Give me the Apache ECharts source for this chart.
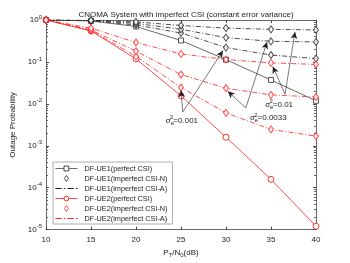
<!DOCTYPE html>
<html>
<head>
<meta charset="utf-8">
<script src="https://cdn.jsdelivr.net/npm/echarts@6/dist/echarts.min.js"></script>
<style>html,body{margin:0;padding:0;background:#fff}#c{width:350px;height:263px}</style>
</head>
<body>
<div id="c"></div>
<script>
var snr = [10, 15, 20, 25, 30, 35, 40];
var xTicks = [10, 15, 20, 25, 30, 35, 40];
var ue1Perfect = [1, 0.95, 0.70, 0.325, 0.113, 0.037, 0.0118];
var ue1Imp001 = [1, 0.96, 0.76, 0.49, 0.22, 0.146, 0.12];
var ue1Imp0033 = [1, 0.97, 0.83, 0.60, 0.38, 0.31, 0.30];
var ue1Imp01 = [1, 0.98, 0.90, 0.74, 0.64, 0.60, 0.58];
var ue2Perfect = [1, 0.55, 0.118, 0.0155, 0.0016, 0.000158, 0.000012];
var ue2Imp001 = [1, 0.56, 0.136, 0.0245, 0.0061, 0.00245, 0.0017];
var ue2Imp0033 = [1, 0.58, 0.18, 0.050, 0.0236, 0.0164, 0.0145];
var ue2Imp01 = [1, 0.64, 0.29, 0.155, 0.114, 0.095, 0.087];
var legendNames = ['DF-UE1(perfect CSI)', 'DF-UE1(imperfect CSI-N)', 'DF-UE1(imperfect CSI-A)',
                   'DF-UE2(perfect CSI)', 'DF-UE2(imperfect CSI-N)', 'DF-UE2(imperfect CSI-A)'];
var sigmaLabels = ['0.001', '0.0033', '0.01'];
// annotation anchors in data coordinates [snr, probability]
var ann001 = {label: [25.1, 0.0040], from: [25.2, 0.0064], to: [[25, 0.021], [29.67, 0.186]]};
var ann0033 = {label: [34.7, 0.0046], from: [32.2, 0.0080], to: [[30.2, 0.020], [34.56, 0.30]]};
var ann01 = {label: [35.9, 0.0095], from: [36.56, 0.017], to: [[35.2, 0.078], [37.67, 0.52]]};

function pairs(ys) { return snr.map(function (x, i) { return [x, ys[i]]; }); }

var RED = '#ff2020';
var BLK = '#222';
var dashDot = [5, 2, 1, 2];
var font = 'Liberation Sans, Arial, sans-serif';
var diamondPath = 'path://M0,-10 L7,0 L0,10 L-7,0 Z';
var dashDotPath = 'path://M0,0h6v0.9h-6z M8,0h1.5v0.9h-1.5z M11.5,0h6v0.9h-6z M19.5,0h1.5v0.9h-1.5z';

function aLine(name, ys, color) {
  return {name: name, type: 'line', data: pairs(ys), symbol: 'none', z: 2,
    lineStyle: {color: color, width: 0.8, type: dashDot}, itemStyle: {color: color}};
}
function nScatter(name, groups, color) {
  var d = [];
  groups.forEach(function (g) { d = d.concat(pairs(g)); });
  return {name: name, type: 'scatter', data: d, symbol: 'diamond', symbolSize: [5, 7], z: 4,
    itemStyle: {color: '#fff', borderColor: color, borderWidth: 1}};
}
function annData(a) {
  return a.to.map(function (t) { return [{coord: a.from}, {coord: t}]; });
}
function annLabel(a, s) {
  return {coord: a.label, symbol: 'circle', symbolSize: 0,
    label: {show: true, position: 'inside', formatter: '{n|σ}{sb|e}{sp|2}{n|=' + s + '}',
      rich: {n: {fontSize: 8, fontFamily: font, color: '#222'},
             sb: {fontSize: 6, fontFamily: font, color: '#222', padding: [0, 0, -5, 0]},
             sp: {fontSize: 6, fontFamily: font, color: '#222', padding: [0, 0, 6, -4]}}}};
}

var chart = echarts.init(document.getElementById('c'));
var yLabelFmt = function (v) {
  var e = Math.round(Math.log10(v));
  return '{b|10}{s|' + e + '}';
};
var legendData = legendNames.map(function (n, i) {
  if (i === 1 || i === 4) return {name: n, icon: diamondPath};
  if (i === 2) return {name: n, icon: dashDotPath, itemStyle: {color: BLK, borderWidth: 0}};
  if (i === 5) return {name: n, icon: dashDotPath, itemStyle: {color: RED, borderWidth: 0}};
  return {name: n};
});
chart.setOption({
  animation: false,
  backgroundColor: '#fff',
  title: {text: 'CNOMA System with imperfect CSI (constant error variance)', left: 181, textAlign: 'center', top: 6,
    textStyle: {fontSize: 8, fontWeight: 'normal', color: '#222', fontFamily: font}},
  grid: {left: 46, right: 34, top: 20, bottom: 31},
  legend: {data: legendData, orient: 'vertical', left: 53, top: 162, width: 118, itemWidth: 22, itemHeight: 6,
    itemGap: 3, padding: [3, 5, 2, 2], backgroundColor: '#fff', borderColor: '#999', borderWidth: 0.8,
    symbolKeepAspect: true, lineStyle: {width: 0.8}, itemStyle: {borderWidth: 1},
    textStyle: {fontSize: 7.3, lineHeight: 7, color: '#222', fontFamily: font, padding: [0, 0, 0, 2]}},
  xAxis: [{type: 'value', min: 10, max: 40, interval: 5, position: 'bottom',
    name: '{n|P}{sb|T}{n|/N}{sb|0}{n|(dB)}', nameLocation: 'middle', nameGap: 17,
    nameTextStyle: {rich: {n: {fontSize: 8, fontFamily: font, color: '#222'},
      sb: {fontSize: 6, fontFamily: font, color: '#222', padding: [0, 0, -5, 0]}}},
    axisLine: {lineStyle: {color: '#444', width: 0.8}},
    axisTick: {inside: true, length: 3, lineStyle: {color: '#444'}},
    axisLabel: {fontSize: 8, color: '#222', fontFamily: font, margin: 6},
    splitLine: {show: false}},
    {type: 'value', min: 10, max: 40, interval: 5, position: 'top',
    axisLine: {lineStyle: {color: '#444', width: 0.8}},
    axisTick: {inside: true, length: 3, lineStyle: {color: '#444'}},
    axisLabel: {show: false}, splitLine: {show: false}}],
  yAxis: [{type: 'log', logBase: 10, min: 1e-5, max: 1, position: 'left',
    name: 'Outage Probability', nameLocation: 'middle', nameGap: 22, nameRotate: 90,
    nameTextStyle: {fontSize: 8, color: '#222', fontFamily: font},
    axisLine: {show: true, lineStyle: {color: '#444', width: 0.8}},
    axisTick: {inside: true, length: 3, lineStyle: {color: '#444'}},
    minorTick: {show: true, splitNumber: 9, length: 2, lineStyle: {color: '#666'}},
    axisLabel: {formatter: yLabelFmt, margin: 4, rich: {b: {fontSize: 8, color: '#222', fontFamily: font},
      s: {fontSize: 6, color: '#222', fontFamily: font, padding: [0, 0, 6, 0]}}},
    splitLine: {show: false}},
    {type: 'log', logBase: 10, min: 1e-5, max: 1, position: 'right',
    axisLine: {show: true, lineStyle: {color: '#444', width: 0.8}},
    axisTick: {inside: true, length: 3, lineStyle: {color: '#444'}},
    minorTick: {show: true, splitNumber: 9, length: 2, lineStyle: {color: '#666'}},
    axisLabel: {show: false}, splitLine: {show: false}}],
  series: [
    {name: legendNames[0], type: 'line', data: pairs(ue1Perfect), symbol: 'rect', symbolSize: 5, z: 3,
      lineStyle: {color: '#444', width: 0.8}, itemStyle: {color: '#fff', borderColor: '#444', borderWidth: 0.9}},
    nScatter(legendNames[1], [ue1Imp001, ue1Imp0033, ue1Imp01], BLK),
    aLine(legendNames[2], ue1Imp001, BLK),
    aLine(legendNames[2], ue1Imp0033, BLK),
    aLine(legendNames[2], ue1Imp01, BLK),
    {name: legendNames[3], type: 'line', data: pairs(ue2Perfect), symbol: 'circle', symbolSize: 6, z: 3,
      lineStyle: {color: RED, width: 0.8}, itemStyle: {color: '#fff', borderColor: RED, borderWidth: 0.9}},
    nScatter(legendNames[4], [ue2Imp001, ue2Imp0033, ue2Imp01], RED),
    aLine(legendNames[5], ue2Imp001, RED),
    aLine(legendNames[5], ue2Imp0033, RED),
    aLine(legendNames[5], ue2Imp01, RED),
    {name: 'annotations', type: 'scatter', data: [], z: 5,
      markLine: {silent: true, symbol: ['none', 'arrow'], symbolSize: [5, 7],
        lineStyle: {color: '#222', width: 0.6, type: 'solid'}, label: {show: false},
        data: annData(ann001).concat(annData(ann0033)).concat(annData(ann01))},
      markPoint: {silent: true, data: [annLabel(ann001, sigmaLabels[0]), annLabel(ann0033, sigmaLabels[1]), annLabel(ann01, sigmaLabels[2])]}}
  ]
});
</script>
</body>
</html>
